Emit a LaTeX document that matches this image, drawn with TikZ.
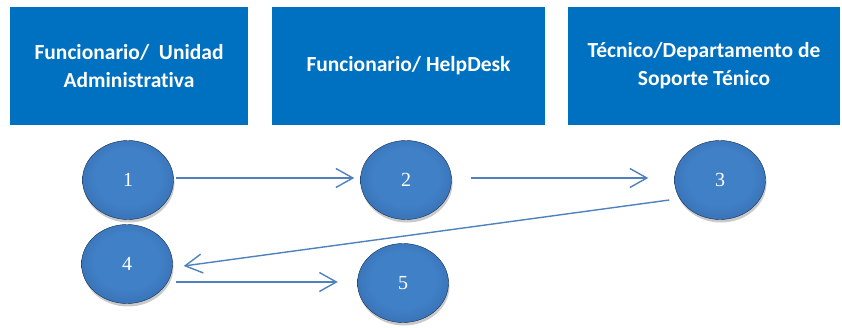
\documentclass[tikz,border=0pt]{standalone}
\usepackage{fontspec}
\setmainfont{Liberation Serif}
\newfontfamily\boxfont[Ligatures=NoCommon]{Carlito}
\usetikzlibrary{arrows.meta,shadows,shapes.geometric}
\definecolor{boxblue}{HTML}{0070C0}
\definecolor{linkblue}{HTML}{4F81BD}
\definecolor{ballin}{HTML}{4080C7}
\definecolor{ballmid}{HTML}{3468AA}
\definecolor{ballout}{HTML}{1F4578}
\pgfdeclareradialshading{ballshade}{\pgfpoint{0bp}{3bp}}{color(0bp)=(ballin); color(18bp)=(ballin); color(34bp)=(ballmid); color(46bp)=(ballout); color(50bp)=(ballout)}
\begin{document}
\begin{tikzpicture}[x=1pt,y=1pt,
  header/.style={fill=boxblue, draw=none, minimum width=#1, minimum height=118pt,
    text=white, font=\boxfont\bfseries\fontsize{21.5}{28}\selectfont, align=center, inner sep=0pt},
  ball/.style={ellipse, minimum width=91pt, minimum height=79pt, inner sep=0pt,
    shading=ballshade, draw=ballout!70!black, line width=0.4pt,
    drop shadow={shadow xshift=1pt, shadow yshift=-3pt, opacity=0.35, fill=black!60},
    text=white, font=\fontsize{20}{20}\selectfont},
  link/.style={draw=linkblue, line width=1.4pt, -{Straight Barb[length=17pt,width=19pt,line width=1.4pt]}}
]
\useasboundingbox (0,0) rectangle (842,327);
\node[header=238pt] (h1) at (129,261) {Funcionario/\ \ Unidad\\Administrativa};
\node[header=273pt] (h2) at (408.5,261) {Funcionario/ HelpDesk};
\node[header=272pt] (h3) at (704,261) {Técnico/Departamento de\\Soporte Ténico};
\node[ball] (c1) at (128,147) {1};
\node[ball] (c2) at (406,147) {2};
\node[ball] (c3) at (720,147) {3};
\node[ball] (c4) at (127,63) {4};
\node[ball] (c5) at (403,44) {5};
\draw[link] ([shift={(2.5,2)}]c1.east) -- ([shift={(-6,2)}]c2.west);
\draw[link] ([shift={(19,2)}]c2.east) -- ([shift={(-26,2)}]c3.west);
\draw[link] ([shift={(-5,-20)}]c3.west) -- ([shift={(11,-2)}]c4.east);
\draw[link] ([shift={(3.5,-18)}]c4.east) -- ([shift={(-19.5,1)}]c5.west);
\end{tikzpicture}
\end{document}
